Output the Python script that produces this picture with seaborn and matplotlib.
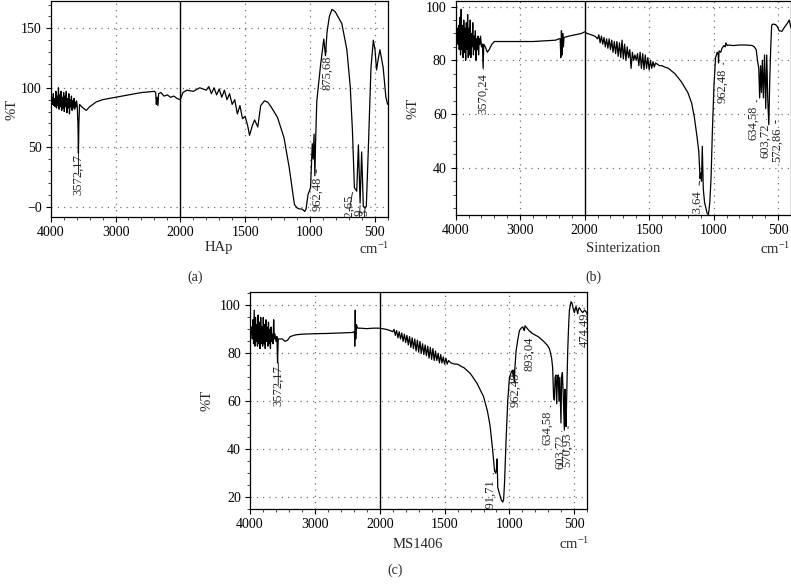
import numpy as np
import pandas as pd
import matplotlib
matplotlib.use("Agg")
import matplotlib.pyplot as plt
import seaborn as sns
from matplotlib.ticker import FixedLocator, FixedFormatter

# ---------------- data (wavenumber cm-1, %T) ----------------
HAP_WN = [4000, 3990, 3980, 3970, 3960, 3950, 3940, 3930, 3920, 3910, 3900, 3890, 3880, 3870, 3860,
          3850, 3840, 3830, 3820, 3810, 3800, 3790, 3780, 3770, 3760, 3750, 3740, 3730, 3720, 3710,
          3700, 3690, 3680, 3670, 3660, 3650, 3640, 3630, 3620, 3610, 3600, 3590, 3580, 3572, 3565,
          3555, 3500, 3450, 3400, 3300,
          3200, 3000, 2800, 2600, 2400, 2380, 2370, 2360, 2345, 2335, 2300, 2250, 2200, 2150, 2100,
          2050, 2000, 1980, 1950, 1900, 1850, 1800, 1780, 1760, 1740, 1720, 1700, 1680, 1660, 1640,
          1620, 1600, 1580, 1560, 1540, 1520, 1500, 1480, 1466, 1445, 1427, 1402, 1380, 1351, 1326,
          1300, 1250, 1200, 1160, 1130, 1120, 1100, 1080, 1060, 1040, 1030, 1015, 995, 982, 975,
          968, 962, 955, 947, 918, 893, 880, 868, 850, 830, 805, 754, 715, 689, 672, 657, 639,
          626, 613, 601, 588, 575, 565, 550, 529, 511, 498, 486, 472, 460, 435, 414, 400]
HAP_T = [90, 87, 92, 86, 95, 85, 91, 84, 97, 83, 93, 85, 100, 82, 94,
         84, 97, 81, 92, 83, 96, 80, 93, 84, 97, 79, 91, 83, 95, 78,
         90, 84, 93, 81, 89, 83, 91, 82, 88, 84, 89, 84, 70, 45, 70,
         86, 83, 81, 84, 88,
         90, 92, 94, 96, 97, 96, 86, 92, 85, 95, 96, 93, 94, 92, 93,
         91, 90, 96, 98, 97, 100, 98, 101, 95, 100, 94, 99, 92, 98, 90,
         95, 86, 90, 78, 85, 74, 76, 68, 60, 68, 73, 67, 85, 89, 88,
         84, 75, 58, 33, 10, 2, -1, -2, -2, -4, -2, 10, 16, 53, 40,
         61, 26, 60, 89, 119, 141, 127, 147, 160, 166, 164, 154, 132, 101, 64, 16, 13,
         52, 3, 46, 0, -1, 0, 47, 117, 140, 132, 115, 125, 132, 117, 92, 86]

SIN_WN = [4000, 3985, 3975, 3965, 3955, 3945, 3935, 3925, 3915, 3905, 3895, 3885, 3875, 3865, 3855,
          3845, 3835, 3825, 3815, 3805, 3795, 3785, 3775, 3765, 3755, 3745, 3735, 3725, 3715, 3705,
          3695, 3685, 3675, 3665, 3655, 3645, 3635, 3625, 3615, 3600, 3585, 3575, 3565, 3540, 3510,
          3480, 3440, 3400, 3300, 3200, 3000, 2800, 2600, 2450, 2400, 2380, 2370, 2360, 2350, 2340,
          2330, 2320, 2250, 2150, 2050, 2000, 1980, 1950, 1920, 1900, 1890, 1880, 1870, 1860, 1850,
          1840, 1830, 1820, 1810, 1800, 1790, 1780, 1770, 1760, 1750, 1740, 1730, 1720, 1710, 1700,
          1690, 1680, 1670, 1660, 1650, 1640, 1630, 1620, 1610, 1600, 1590, 1580, 1570, 1560, 1550,
          1540, 1530, 1520, 1510, 1500, 1490, 1480, 1470, 1460, 1450, 1420, 1400, 1380, 1350, 1300,
          1250, 1200, 1170, 1150, 1130, 1115, 1105, 1100, 1094, 1088, 1080, 1070, 1060, 1050, 1040,
          1030, 1020, 1010, 997, 985, 972, 964, 962, 958, 945, 935, 920, 910, 905, 895,
          880, 850, 800, 750, 700, 685, 670, 660, 650, 643, 636, 629, 622, 614, 605,
          596, 588, 580, 572, 565, 557, 550, 540, 520, 505, 492, 470, 455, 440, 425,
          414, 405, 400]
SIN_T = [90, 88, 92, 86, 93, 84, 96, 82, 99, 84, 93, 81, 95, 83, 92,
         80, 94, 84, 97, 81, 92, 82, 95, 81, 90, 85, 94, 82, 89, 84,
         91, 80, 88, 84, 89, 82, 88, 86, 89, 85, 86, 77, 86, 85, 83,
         84, 86, 87, 87, 87, 87, 87, 87.3, 87.5, 88, 88, 81, 91, 82, 90,
         85, 88.5, 89, 89.5, 90, 90.6, 90, 89.5, 89, 88, 89.5, 86.5, 89, 86, 88.5,
         85, 88, 84.5, 88, 84, 87.5, 83, 87, 82.5, 87, 81.5, 86.5, 81, 87.5, 80.5,
         86, 80, 85, 81, 84, 77, 83, 80, 82, 80, 82.5, 78, 83, 77, 82.5,
         76.5, 82, 77, 81, 76.5, 80, 77, 79.5, 77.5, 79, 78, 78, 77.5, 77, 75,
         72, 68, 64, 59, 52, 46, 36, 38, 35, 48, 32, 27, 25, 23, 22.5,
         27, 36, 53, 71, 81, 83, 82, 79, 83.5, 83, 84.5, 85.5, 85, 86.5, 85.5,
         85.7, 85.5, 85.7, 85.7, 85.5, 85, 84, 80, 77, 66, 78, 68, 80, 66, 82,
         62, 82, 65, 56, 72, 85, 93, 93.5, 93.3, 92.5, 91, 90.8, 92, 93, 94,
         95, 93, 92]

MS_WN = [4000, 3985, 3975, 3965, 3955, 3945, 3935, 3925, 3915, 3905, 3895, 3885, 3875, 3865, 3855,
         3845, 3835, 3825, 3815, 3805, 3795, 3785, 3775, 3765, 3755, 3745, 3735, 3725, 3715, 3705,
         3695, 3685, 3675, 3665, 3655, 3645, 3635, 3625, 3615, 3600, 3585, 3575, 3565, 3540, 3500,
         3460, 3420, 3380, 3300, 3200, 3000, 2800, 2600, 2420, 2400, 2390, 2385, 2378, 2370, 2360,
         2340, 2300, 2200, 2100, 2000, 1950, 1920, 1900, 1890, 1880, 1870, 1860, 1850, 1840, 1830,
         1820, 1810, 1800, 1790, 1780, 1770, 1760, 1750, 1740, 1730, 1720, 1710, 1700, 1690, 1680,
         1670, 1660, 1650, 1640, 1630, 1620, 1610, 1600, 1590, 1580, 1570, 1560, 1550, 1540, 1530,
         1520, 1510, 1500, 1490, 1480, 1470, 1450, 1420, 1400, 1370, 1350, 1300, 1250, 1200, 1170,
         1150, 1130, 1115, 1105, 1098, 1095, 1090, 1077, 1064, 1052, 1045, 1038, 1026, 1013, 1000,
         987, 978, 970, 965, 962, 958, 949, 935, 923, 910, 897, 890, 885, 880, 872,
         850, 821, 780, 744, 710, 692, 675, 667, 660, 654, 648, 642, 636, 630, 624,
         618, 612, 603, 598, 592, 585, 577, 572, 568, 564, 556, 551, 545, 538, 526,
         518, 510, 500, 492, 487, 480, 474, 468, 462, 450, 436, 420, 405, 400]
MS_T = [90, 88, 91, 86, 94, 84, 98, 83, 95, 85, 92, 83, 96, 84, 93,
        82, 95, 84, 91, 83, 95, 84, 92, 82, 94, 85, 91, 83, 93, 84,
        90, 82, 91, 85, 88, 84, 94, 86, 88, 85, 87, 76, 86, 86, 86,
        85, 85.5, 87, 87.7, 88, 88.2, 88.3, 88.5, 88.7, 89, 89, 83, 98, 86, 92,
        90.5, 90.5, 90.3, 90.5, 90.5, 90, 89.5, 89, 90, 87.5, 89.5, 86.5, 89, 86, 88.5,
        85, 88, 84.5, 87.5, 83.5, 87, 82.5, 86.5, 82, 86, 81, 85.5, 80.5, 85, 80,
        84, 79.5, 83.5, 79, 83, 78, 82.5, 77.5, 82, 77, 81, 77, 80, 76, 79.5,
        76, 78.5, 75.5, 78, 75.5, 77, 76, 75.5, 75.5, 74.5, 74, 71.5, 67.5, 62, 56,
        50, 40, 31, 30, 33, 36, 24, 21.5, 19, 18, 19, 26, 44, 60.5, 70,
        72, 73, 70, 73, 68, 74, 81, 86, 89.5, 90.5, 91, 90, 89.5, 91.5, 91,
        89.5, 88.2, 87, 85.4, 83.5, 82, 78, 74, 62, 60.5, 70, 71, 59, 70, 71,
        60, 70, 51, 70, 72, 62, 48, 65, 55, 49.5, 70, 81, 90, 98, 101.5,
        101, 99, 97, 98.5, 99.5, 98, 96.5, 98.5, 99, 98, 97, 98, 97, 96]

# peak labels: (text, text wavenumber, text top %T, connector wavenumber, connector %T)
HAP_LABELS = [("3572,17", 3572, 44, 3572, 45),
              ("962,48", 944, 25, 952, 31),
              ("875,68", 866, 127, 872, 131),
              ("632,65", 697, 10, 672, 12),
              ("601,79", 621, -1.5, 613, 1),
              ("565,93", 582, -1.5, 575, 0)]
SIN_LABELS = [("3570,24", 3571, 75, 3571, 76.5),
              ("1093,64", 1129, 32, 1110, 35),
              ("962,48", 935, 77, 925, 79),
              ("634,58", 690, 63, 665, 65),
              ("603,72", 599, 56.5, 590, 58),
              ("572,86", 508, 55, 520, 57.5)]
MS_LABELS = [("3572,17", 3564, 75, 3564, 76),
             ("1091,71", 1149, 28, 1125, 30),
             ("962,48", 954, 72, 945, 74),
             ("893,04", 846, 87, 835, 89),
             ("634,58", 705, 56, 683, 58),
             ("603,72", 610, 46, 596, 47.5),
             ("570,93", 556, 47, 548, 49.5),
             ("474,49", 418, 97, 425, 99)]

# ---------------- style ----------------
sns.set_theme(style="white")
plt.rcParams["font.family"] = ["Liberation Serif", "DejaVu Serif"]
plt.rcParams["mathtext.fontset"] = "stix"
plt.rcParams["axes.unicode_minus"] = True

W, H = 791, 587
fig = plt.figure(figsize=(W / 100, H / 100), dpi=100)


def fwd(x):
    x = np.asarray(x, dtype=float)
    return np.where(x >= 2000, x, 2 * x - 2000)


def inv(y):
    y = np.asarray(y, dtype=float)
    return np.where(y >= 2000, y, (y + 2000) / 2)


def px(x, y):
    return x / W, 1 - y / H


def panel(rect, wn, t, yticks, ylabels, ylim, ystep, labels):
    ax = fig.add_axes(rect)
    df = pd.DataFrame({"wn": wn, "T": t})
    ax.set_xscale("function", functions=(fwd, inv))
    sns.lineplot(data=df, x="wn", y="T", sort=False, estimator=None, ax=ax,
                 color="black", lw=0.9, zorder=3)
    ax.set_xlim(4000, 400)
    ax.set_ylim(*ylim)
    xmaj = [4000, 3000, 2000, 1500, 1000, 500]
    xmin = [w for w in list(range(3800, 2000, -200)) + list(range(1900, 399, -100)) if w not in xmaj]
    ax.xaxis.set_major_locator(FixedLocator(xmaj))
    ax.xaxis.set_major_formatter(FixedFormatter([str(v) for v in xmaj]))
    ax.xaxis.set_minor_locator(FixedLocator(xmin))
    ax.yaxis.set_major_locator(FixedLocator(yticks))
    ax.yaxis.set_major_formatter(FixedFormatter(ylabels))
    ymin = [v for v in np.arange(yticks[0] - 3 * ystep, ylim[1], ystep) if v not in yticks]
    ax.yaxis.set_minor_locator(FixedLocator(ymin))
    ax.tick_params(axis="both", which="major", direction="out", length=3.5, width=0.8,
                   labelsize=10, pad=3, bottom=True, left=True, colors="black")
    ax.tick_params(axis="both", which="minor", direction="out", length=2, width=0.6,
                   bottom=True, left=True)
    ax.set_xlabel("")
    ax.set_ylabel("")
    for v in [3000, 1500, 1000, 500]:
        ax.axvline(v, color="0.45", lw=0.9, ls=(0, (1, 4)), zorder=1)
    for v in yticks:
        ax.axhline(v, color="0.45", lw=0.9, ls=(0, (1, 4)), zorder=1)
    ax.axvline(2000, color="black", lw=1.0, zorder=4)
    for s in ax.spines.values():
        s.set_color("black")
        s.set_linewidth(0.9)
        s.set_visible(True)
    for lab, tx, ty, cx, cy in labels:
        a = ax.annotate(lab, xy=(cx, cy), xytext=(tx, ty), rotation=90, ha="center", va="top",
                        fontsize=9, annotation_clip=False,
                        arrowprops=dict(arrowstyle="-", lw=0.6, color="black",
                                        shrinkA=0.5, shrinkB=0))
        a.set_clip_box(ax.bbox)
        a.set_clip_on(True)
        if a.arrow_patch is not None:
            a.arrow_patch.set_clip_box(ax.bbox)
            a.arrow_patch.set_clip_on(True)
    return ax


ax_a = panel([50.7 / W, 1 - 217 / H, 337 / W, 216 / H], HAP_WN, HAP_T,
             [0, 50, 100, 150], ["\u22120", "50", "100", "150"], (-8.7, 173), 10, HAP_LABELS)
ax_b = panel([455.7 / W, 1 - 215 / H, 335.3 / W, 214.3 / H], SIN_WN, SIN_T,
             [40, 60, 80, 100], ["40", "60", "80", "100"], (22.4, 102.2), 5, SIN_LABELS)
ax_c = panel([250 / W, 1 - 509.3 / H, 337.3 / W, 217.6 / H], MS_WN, MS_T,
             [20, 40, 60, 80, 100], ["20", "40", "60", "80", "100"], (15, 105.7), 5, MS_LABELS)

# ---------------- figure texts ----------------
cm = r"cm$^{\mathregular{-1}}$"
for (x, y, s, fs) in [(219, 248, "HAp", 10.5), (623, 249, "Sinterization", 10.5),
                      (418, 544, "MS1406", 10.5),
                      (195, 277, "(a)", 10), (593, 277, "(b)", 10), (395, 570, "(c)", 10)]:
    fig.text(*px(x, y), s, ha="center", va="center", fontsize=fs)
for (x, y) in [(374, 249), (775, 249), (574, 544)]:
    fig.text(*px(x, y), cm, ha="center", va="center", fontsize=10.5)
for (x, y) in [(12, 109), (413, 108), (207, 400)]:
    fig.text(*px(x, y), "%T", ha="center", va="center", fontsize=10.5, rotation=90)

fig.savefig("out.png", dpi=100)
